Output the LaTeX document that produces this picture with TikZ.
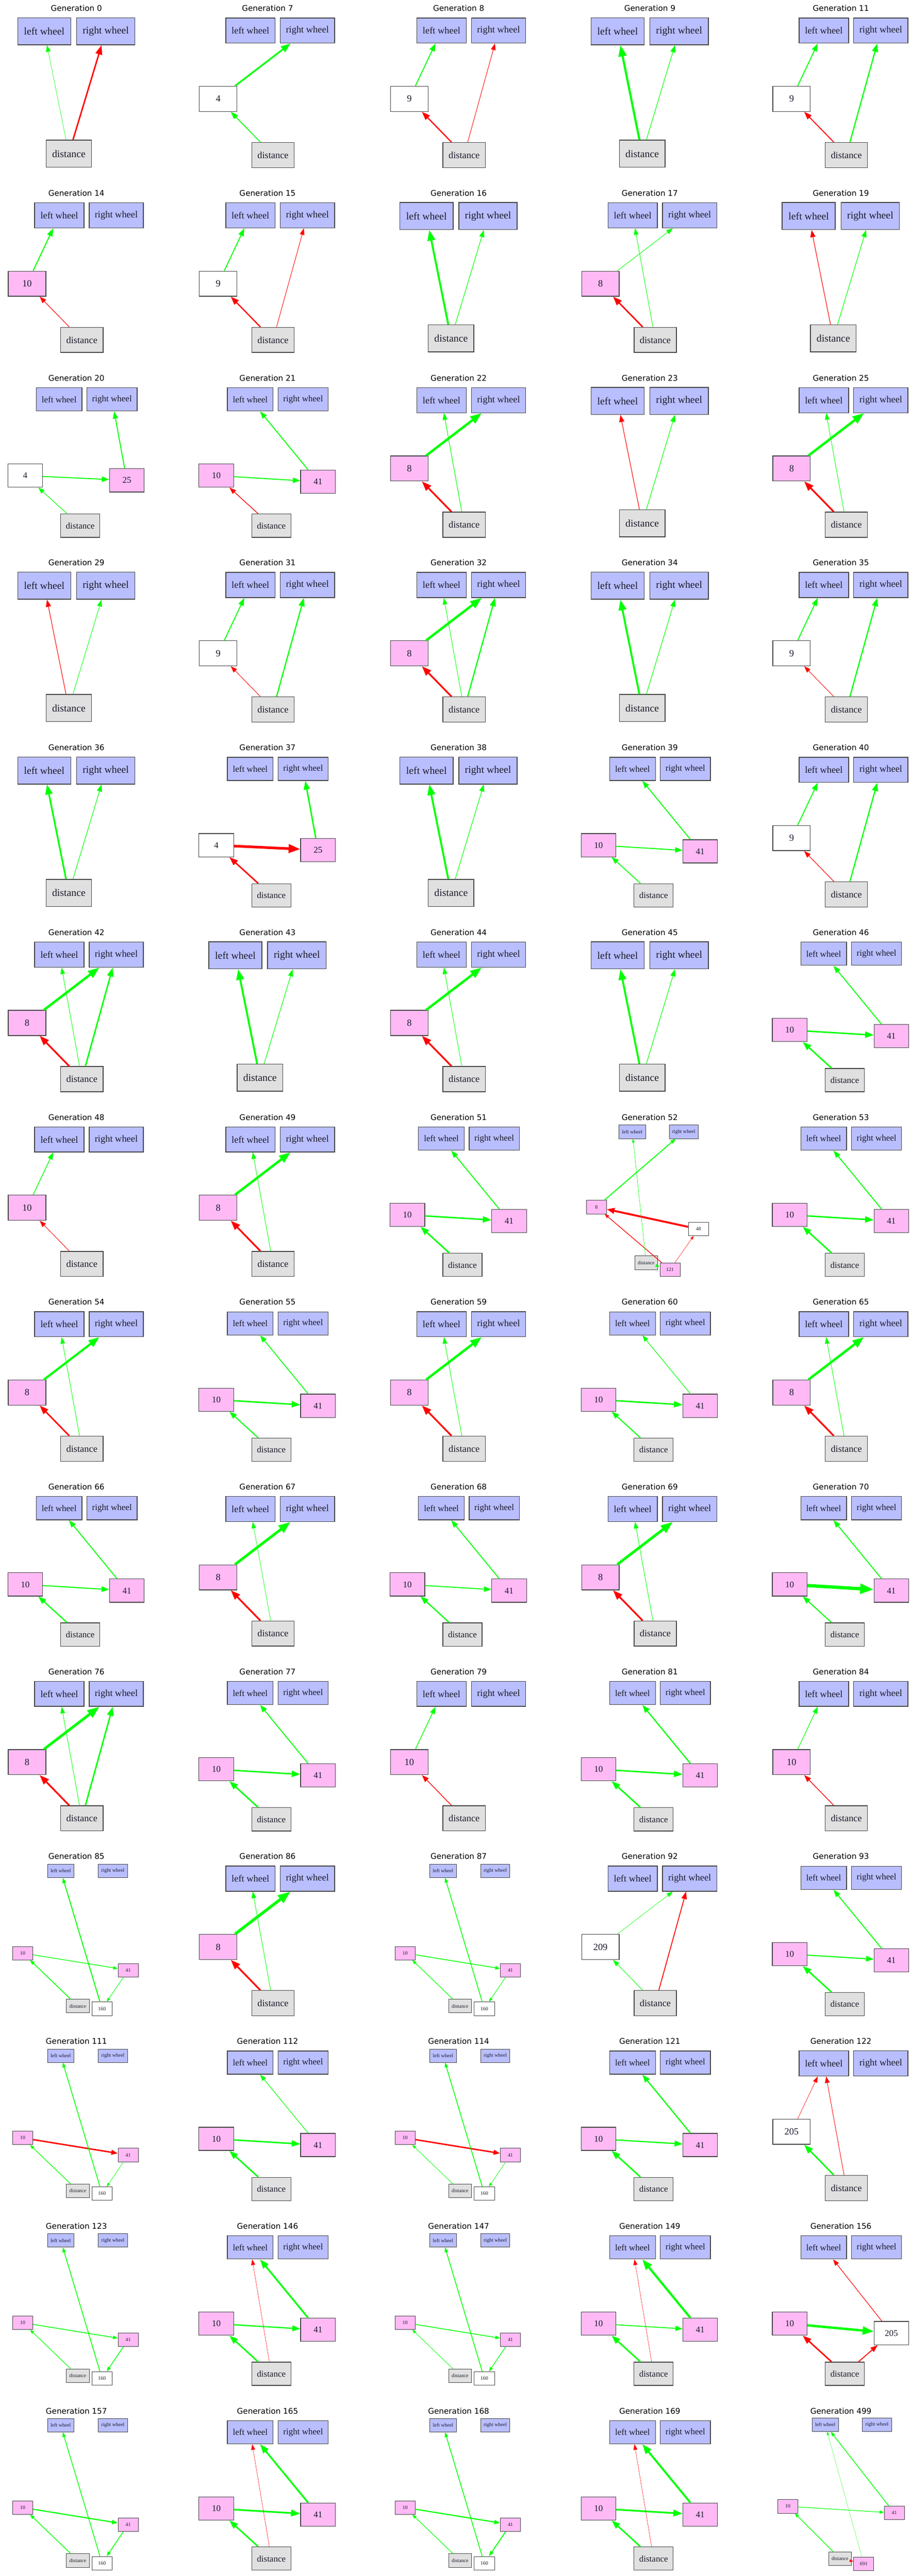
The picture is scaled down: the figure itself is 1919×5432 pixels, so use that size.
\documentclass[tikz,border=0pt]{standalone}
\usepackage{fontspec}
\setmainfont{Liberation Serif}
\newfontfamily\titlefont{DejaVu Sans}
\usetikzlibrary{arrows.meta}
\definecolor{wblue}{HTML}{B9BEFF}
\definecolor{hpink}{HTML}{FFBAF5}
\definecolor{dgray}{HTML}{E0E0E0}
\definecolor{eg}{HTML}{00FF00}
\definecolor{er}{HTML}{FF0000}
\definecolor{ntext}{HTML}{1A1A2A}
\def\psc{1}\def\pfs{21}
\tikzset{
 ttl/.style={font=\titlefont\fontsize{16.5}{18}\selectfont, inner sep=0pt},
 box/.style={draw=black!72, line width={1.6*\psc}, inner sep=0pt, minimum height={57*\psc}, text=ntext, font=\fontsize{\pfs}{\pfs}\selectfont},
 lwb/.style={box, fill=wblue, minimum width={112*\psc}},
 rwb/.style={box, fill=wblue, minimum width={123*\psc}},
 dib/.style={box, fill=dgray, minimum width={96*\psc}},
 nwb/.style={box, fill=white, minimum width={85*\psc}},
 npb/.style={box, fill=hpink, minimum width={85*\psc}},
}
\newcommand\nd[5]{\node[#1] (#2) at (#3,#4) {#5};}
\newcommand\ed[4]{\pgfmathsetmacro\aL{12*\psc+2.6*#2}\pgfmathsetmacro\aW{0.72*\aL}%
 \draw[#1, line width=#2pt, -{Triangle[length=\aL pt,width=\aW pt]}] (#3) -- (#4);}
\newcommand\gp[5]{%
 \begin{scope}[shift={({161+402.75*#1},{17.5+389.7*#2})}]
 \def\psc{#4}\pgfmathsetmacro\pfs{21.5*#4}
 \node[ttl] (t#3) at (0,0) {Generation #3};
 #5
 \end{scope}}
\newcommand\Lone[1]{%
 \nd{lwb}{g#1lw}{-67.8}{48.5}{left wheel}
 \nd{rwb}{g#1rw}{61.8}{48.5}{right wheel}
 \nd{dib}{g#1di}{-16}{306.5}{distance}}
\newcommand\Ltwo[3]{%
 \nd{lwb}{g#1lw}{-36}{47}{left wheel}
 \nd{rwb}{g#1rw}{84}{47}{right wheel}
 \nd{#2}{g#1h}{-104}{191}{#3}
 \nd{dib}{g#1di}{11.5}{309.5}{distance}}
\newcommand\Lfour[6]{%
 \nd{lwb}{g#1lw}{-36.4}{45.2}{left wheel}
 \nd{rwb}{g#1rw}{75}{45.2}{right wheel}
 \nd{#2}{g#1h}{-108}{206}{#3}
 \nd{#4}{g#1k}{106.3}{#6}{#5}
 \nd{dib}{g#1di}{8}{311.6}{distance}}
\newcommand\LT[1]{%
 \nd{lwb}{g#1lw}{-33}{30.5}{left wheel}
 \nd{rwb}{g#1rw}{77}{30.5}{right wheel}
 \nd{npb}{g#1h}{-113}{204}{10}
 \nd{npb}{g#1k}{109}{240}{41}
 \nd{dib}{g#1di}{3}{315.5}{distance}
 \nd{nwb}{g#1m}{54}{321.3}{160}}
\begin{document}
\begin{tikzpicture}[x=1pt,y=-1pt]
\useasboundingbox (0,0) rectangle (1919,5432);
\fill[white] (0,0) rectangle (1919,5432);
% Row 0
\gp{0}{0}{0}{1}{\Lone{0}\ed{eg}{0.7}{g0di}{g0lw}\ed{er}{3}{g0di}{g0rw}}
\gp{1}{0}{7}{0.93}{\Ltwo{7}{nwb}{4}\ed{eg}{3.5}{g7h}{g7rw}\ed{eg}{1.8}{g7di}{g7h}}
\gp{2}{0}{8}{0.93}{\Ltwo{8}{nwb}{9}\ed{eg}{2}{g8h}{g8lw}\ed{er}{2.5}{g8di}{g8h}\ed{er}{1}{g8di}{g8rw}}
\gp{3}{0}{9}{1}{\Lone{9}\ed{eg}{4.5}{g9di}{g9lw}\ed{eg}{1.2}{g9di}{g9rw}}
\gp{4}{0}{11}{0.93}{\Ltwo{11}{nwb}{9}\ed{eg}{2}{g11h}{g11lw}\ed{er}{2}{g11di}{g11h}\ed{eg}{2.5}{g11di}{g11rw}}
% Row 1
\gp{0}{1}{14}{0.93}{\Ltwo{14}{npb}{10}\ed{eg}{2.2}{g14h}{g14lw}\ed{er}{1.2}{g14di}{g14h}}
\gp{1}{1}{15}{0.93}{\Ltwo{15}{nwb}{9}\ed{eg}{2}{g15h}{g15lw}\ed{er}{2.5}{g15di}{g15h}\ed{er}{1}{g15di}{g15rw}}
\gp{2}{1}{16}{1}{\Lone{16}\ed{eg}{4}{g16di}{g16lw}\ed{eg}{1.2}{g16di}{g16rw}}
\gp{3}{1}{17}{0.93}{\Ltwo{17}{npb}{8}\ed{eg}{1}{g17h}{g17rw}\ed{eg}{1}{g17di}{g17lw}\ed{er}{3}{g17di}{g17h}}
\gp{4}{1}{19}{1}{\Lone{19}\ed{er}{1.2}{g19di}{g19lw}\ed{eg}{1.2}{g19di}{g19rw}}
% Row 2
\gp{0}{2}{20}{0.86}{\Lfour{20}{nwb}{4}{npb}{25}{216}\ed{eg}{2}{g20h}{g20k}\ed{eg}{2}{g20k}{g20rw}\ed{eg}{1.2}{g20di}{g20h}}
\gp{1}{2}{21}{0.86}{\Lfour{21}{npb}{10}{npb}{41}{219}\ed{eg}{2}{g21h}{g21k}\ed{eg}{2}{g21k}{g21lw}\ed{er}{1.5}{g21di}{g21h}}
\gp{2}{2}{22}{0.93}{\Ltwo{22}{npb}{8}\ed{eg}{5}{g22h}{g22rw}\ed{eg}{1.2}{g22di}{g22lw}\ed{er}{3.5}{g22di}{g22h}}
\gp{3}{2}{23}{1}{\Lone{23}\ed{er}{1.2}{g23di}{g23lw}\ed{eg}{1.2}{g23di}{g23rw}}
\gp{4}{2}{25}{0.93}{\Ltwo{25}{npb}{8}\ed{eg}{5}{g25h}{g25rw}\ed{eg}{1}{g25di}{g25lw}\ed{er}{3.5}{g25di}{g25h}}
% Row 3
\gp{0}{3}{29}{1}{\Lone{29}\ed{er}{1.2}{g29di}{g29lw}\ed{eg}{1}{g29di}{g29rw}}
\gp{1}{3}{31}{0.93}{\Ltwo{31}{nwb}{9}\ed{eg}{2}{g31h}{g31lw}\ed{er}{1}{g31di}{g31h}\ed{eg}{2.5}{g31di}{g31rw}}
\gp{2}{3}{32}{0.93}{\Ltwo{32}{npb}{8}\ed{eg}{5}{g32h}{g32rw}\ed{eg}{1}{g32di}{g32lw}\ed{eg}{2.5}{g32di}{g32rw}\ed{er}{3.5}{g32di}{g32h}}
\gp{3}{3}{34}{1}{\Lone{34}\ed{eg}{4}{g34di}{g34lw}\ed{eg}{1.2}{g34di}{g34rw}}
\gp{4}{3}{35}{0.93}{\Ltwo{35}{nwb}{9}\ed{eg}{2}{g35h}{g35lw}\ed{er}{1}{g35di}{g35h}\ed{eg}{2.5}{g35di}{g35rw}}
% Row 4
\gp{0}{4}{36}{1}{\Lone{36}\ed{eg}{3.5}{g36di}{g36lw}\ed{eg}{1.2}{g36di}{g36rw}}
\gp{1}{4}{37}{0.86}{\Lfour{37}{nwb}{4}{npb}{25}{216}\ed{er}{5.5}{g37h}{g37k}\ed{eg}{3}{g37k}{g37rw}\ed{er}{3}{g37di}{g37h}}
\gp{2}{4}{38}{1}{\Lone{38}\ed{eg}{4}{g38di}{g38lw}\ed{eg}{1.2}{g38di}{g38rw}}
\gp{3}{4}{39}{0.86}{\Lfour{39}{npb}{10}{npb}{41}{219}\ed{eg}{2}{g39h}{g39k}\ed{eg}{2}{g39k}{g39lw}\ed{eg}{1.8}{g39di}{g39h}}
\gp{4}{4}{40}{0.93}{\Ltwo{40}{nwb}{9}\ed{eg}{2}{g40h}{g40lw}\ed{er}{1.2}{g40di}{g40h}\ed{eg}{2.5}{g40di}{g40rw}}
% Row 5
\gp{0}{5}{42}{0.93}{\Ltwo{42}{npb}{8}\ed{eg}{5}{g42h}{g42rw}\ed{eg}{1}{g42di}{g42lw}\ed{eg}{3}{g42di}{g42rw}\ed{er}{3.5}{g42di}{g42h}}
\gp{1}{5}{43}{1}{\Lone{43}\ed{eg}{4}{g43di}{g43lw}\ed{eg}{1.2}{g43di}{g43rw}}
\gp{2}{5}{44}{0.93}{\Ltwo{44}{npb}{8}\ed{eg}{5}{g44h}{g44rw}\ed{eg}{1}{g44di}{g44lw}\ed{er}{3.5}{g44di}{g44h}}
\gp{3}{5}{45}{1}{\Lone{45}\ed{eg}{4}{g45di}{g45lw}\ed{eg}{1.2}{g45di}{g45rw}}
\gp{4}{5}{46}{0.86}{\Lfour{46}{npb}{10}{npb}{41}{219}\ed{eg}{3}{g46h}{g46k}\ed{eg}{2}{g46k}{g46lw}\ed{eg}{3}{g46di}{g46h}}
% Row 6
\gp{0}{6}{48}{0.93}{\Ltwo{48}{npb}{10}\ed{eg}{1.5}{g48h}{g48lw}\ed{er}{1}{g48di}{g48h}}
\gp{1}{6}{49}{0.93}{\Ltwo{49}{npb}{8}\ed{eg}{5}{g49h}{g49rw}\ed{eg}{1}{g49di}{g49lw}\ed{er}{3.5}{g49di}{g49h}}
\gp{2}{6}{51}{0.86}{\Lfour{51}{npb}{10}{npb}{41}{219}\ed{eg}{3}{g51h}{g51k}\ed{eg}{2}{g51k}{g51lw}\ed{eg}{3}{g51di}{g51h}}
\gp{3}{6}{52}{0.5}{%
 \nd{lwb}{g52lw}{-37}{31}{left wheel}
 \nd{rwb}{g52rw}{71.5}{31}{right wheel}
 \nd{npb}{g52h}{-112.4}{189.5}{8}
 \nd{nwb}{g52k}{102.6}{236}{48}
 \nd{dib}{g52di}{-7.7}{306.8}{distance}
 \nd{npb}{g52m}{42.5}{321.6}{121}
 \ed{eg}{2}{g52h}{g52rw}\ed{er}{4}{g52k}{g52h}\ed{er}{1.4}{g52m}{g52h}\ed{eg}{0.7}{g52di}{g52lw}\ed{er}{0.6}{g52m}{g52k}\ed{eg}{1}{g52di}{g52m}}
\gp{4}{6}{53}{0.86}{\Lfour{53}{npb}{10}{npb}{41}{219}\ed{eg}{3}{g53h}{g53k}\ed{eg}{2}{g53k}{g53lw}\ed{eg}{3}{g53di}{g53h}}
% Row 7
\gp{0}{7}{54}{0.93}{\Ltwo{54}{npb}{8}\ed{eg}{4.5}{g54h}{g54rw}\ed{eg}{1}{g54di}{g54lw}\ed{er}{3}{g54di}{g54h}}
\gp{1}{7}{55}{0.86}{\Lfour{55}{npb}{10}{npb}{41}{219}\ed{eg}{3}{g55h}{g55k}\ed{eg}{1.8}{g55k}{g55lw}\ed{eg}{2.2}{g55di}{g55h}}
\gp{2}{7}{59}{0.93}{\Ltwo{59}{npb}{8}\ed{eg}{5}{g59h}{g59rw}\ed{eg}{1}{g59di}{g59lw}\ed{er}{3.5}{g59di}{g59h}}
\gp{3}{7}{60}{0.86}{\Lfour{60}{npb}{10}{npb}{41}{219}\ed{eg}{3}{g60h}{g60k}\ed{eg}{1.2}{g60k}{g60lw}\ed{eg}{2.2}{g60di}{g60h}}
\gp{4}{7}{65}{0.93}{\Ltwo{65}{npb}{8}\ed{eg}{5}{g65h}{g65rw}\ed{eg}{1}{g65di}{g65lw}\ed{er}{3.5}{g65di}{g65h}}
% Row 8
\gp{0}{8}{66}{0.86}{\Lfour{66}{npb}{10}{npb}{41}{219}\ed{eg}{2.2}{g66h}{g66k}\ed{eg}{2}{g66k}{g66lw}\ed{eg}{2.5}{g66di}{g66h}}
\gp{1}{8}{67}{0.93}{\Ltwo{67}{npb}{8}\ed{eg}{5.5}{g67h}{g67rw}\ed{eg}{0.8}{g67di}{g67lw}\ed{er}{3.5}{g67di}{g67h}}
\gp{2}{8}{68}{0.86}{\Lfour{68}{npb}{10}{npb}{41}{219}\ed{eg}{2}{g68h}{g68k}\ed{eg}{2}{g68k}{g68lw}\ed{eg}{2.5}{g68di}{g68h}}
\gp{3}{8}{69}{0.93}{\Ltwo{69}{npb}{8}\ed{eg}{5.5}{g69h}{g69rw}\ed{eg}{1}{g69di}{g69lw}\ed{er}{3.5}{g69di}{g69h}}
\gp{4}{8}{70}{0.86}{\Lfour{70}{npb}{10}{npb}{41}{219}\ed{eg}{7}{g70h}{g70k}\ed{eg}{2}{g70k}{g70lw}\ed{eg}{2.2}{g70di}{g70h}}
% Row 9
\gp{0}{9}{76}{0.93}{\Ltwo{76}{npb}{8}\ed{eg}{5.5}{g76h}{g76rw}\ed{eg}{1}{g76di}{g76lw}\ed{eg}{3}{g76di}{g76rw}\ed{er}{3.5}{g76di}{g76h}}
\gp{1}{9}{77}{0.86}{\Lfour{77}{npb}{10}{npb}{41}{219}\ed{eg}{3}{g77h}{g77k}\ed{eg}{2}{g77k}{g77lw}\ed{eg}{3}{g77di}{g77h}}
\gp{2}{9}{79}{0.93}{\Ltwo{79}{npb}{10}\ed{eg}{1.5}{g79h}{g79lw}\ed{er}{1.5}{g79di}{g79h}}
\gp{3}{9}{81}{0.86}{\Lfour{81}{npb}{10}{npb}{41}{219}\ed{eg}{3}{g81h}{g81k}\ed{eg}{2.5}{g81k}{g81lw}\ed{eg}{3}{g81di}{g81h}}
\gp{4}{9}{84}{0.93}{\Ltwo{84}{npb}{10}\ed{eg}{1.2}{g84h}{g84lw}\ed{er}{1.5}{g84di}{g84h}}
% Row 10
\gp{0}{10}{85}{0.5}{\LT{85}\ed{eg}{1.4}{g85h}{g85k}\ed{eg}{1.7}{g85di}{g85h}\ed{eg}{2}{g85m}{g85lw}\ed{eg}{1}{g85k}{g85m}}
\gp{1}{10}{86}{0.93}{\Ltwo{86}{npb}{8}\ed{eg}{6}{g86h}{g86rw}\ed{eg}{1}{g86di}{g86lw}\ed{er}{3.5}{g86di}{g86h}}
\gp{2}{10}{87}{0.5}{\LT{87}\ed{eg}{1.6}{g87h}{g87k}\ed{eg}{1.2}{g87di}{g87h}\ed{eg}{1.6}{g87m}{g87lw}\ed{eg}{1}{g87k}{g87m}}
\gp{3}{10}{92}{0.93}{\Ltwo{92}{nwb}{209}\ed{eg}{0.7}{g92h}{g92rw}\ed{eg}{1}{g92di}{g92h}\ed{er}{1.8}{g92di}{g92rw}}
\gp{4}{10}{93}{0.86}{\Lfour{93}{npb}{10}{npb}{41}{219}\ed{eg}{2.2}{g93h}{g93k}\ed{eg}{2}{g93k}{g93lw}\ed{eg}{3}{g93di}{g93h}}
% Row 11
\gp{0}{11}{111}{0.5}{\LT{111}\ed{er}{3}{g111h}{g111k}\ed{eg}{1.3}{g111di}{g111h}\ed{eg}{1.6}{g111m}{g111lw}\ed{eg}{0.8}{g111k}{g111m}}
\gp{1}{11}{112}{0.86}{\Lfour{112}{npb}{10}{npb}{41}{219}\ed{eg}{3}{g112h}{g112k}\ed{eg}{1.2}{g112k}{g112lw}\ed{eg}{3}{g112di}{g112h}}
\gp{2}{11}{114}{0.5}{\LT{114}\ed{er}{3}{g114h}{g114k}\ed{eg}{0.9}{g114di}{g114h}\ed{eg}{1.6}{g114m}{g114lw}\ed{eg}{0.8}{g114k}{g114m}}
\gp{3}{11}{121}{0.86}{\Lfour{121}{npb}{10}{npb}{41}{219}\ed{eg}{2.5}{g121h}{g121k}\ed{eg}{2.5}{g121k}{g121lw}\ed{eg}{3}{g121di}{g121h}}
\gp{4}{11}{122}{0.93}{\Ltwo{122}{nwb}{205}\ed{er}{0.7}{g122h}{g122lw}\ed{eg}{3}{g122di}{g122h}\ed{er}{1}{g122di}{g122lw}}
% Row 12
\gp{0}{12}{123}{0.5}{\LT{123}\ed{eg}{1.6}{g123h}{g123k}\ed{eg}{1.2}{g123di}{g123h}\ed{eg}{1.6}{g123m}{g123lw}\ed{eg}{1.5}{g123k}{g123m}}
\gp{1}{12}{146}{0.86}{\Lfour{146}{npb}{10}{npb}{41}{219}\ed{eg}{2.5}{g146h}{g146k}\ed{eg}{3.5}{g146k}{g146lw}\ed{eg}{3}{g146di}{g146h}\ed{er}{0.6}{g146di}{g146lw}}
\gp{2}{12}{147}{0.5}{\LT{147}\ed{eg}{1.6}{g147h}{g147k}\ed{eg}{0.9}{g147di}{g147h}\ed{eg}{1.6}{g147m}{g147lw}\ed{eg}{1.3}{g147k}{g147m}}
\gp{3}{12}{149}{0.86}{\Lfour{149}{npb}{10}{npb}{41}{219}\ed{eg}{1.8}{g149h}{g149k}\ed{eg}{4.5}{g149k}{g149lw}\ed{eg}{3}{g149di}{g149h}\ed{er}{0.6}{g149di}{g149lw}}
\gp{4}{12}{156}{0.86}{\Lfour{156}{npb}{10}{nwb}{205}{226}\ed{eg}{5}{g156h}{g156k}\ed{er}{1.2}{g156k}{g156lw}\ed{er}{3}{g156di}{g156h}\ed{er}{2}{g156di}{g156k}}
% Row 13
\gp{0}{13}{157}{0.5}{\LT{157}\ed{eg}{2.4}{g157h}{g157k}\ed{eg}{1.5}{g157di}{g157h}\ed{eg}{1.5}{g157m}{g157lw}\ed{eg}{1.6}{g157k}{g157m}}
\gp{1}{13}{165}{0.86}{\Lfour{165}{npb}{10}{npb}{41}{219}\ed{eg}{3.5}{g165h}{g165k}\ed{eg}{3.5}{g165k}{g165lw}\ed{eg}{3}{g165di}{g165h}\ed{er}{0.6}{g165di}{g165lw}}
\gp{2}{13}{168}{0.5}{\LT{168}\ed{eg}{2.4}{g168h}{g168k}\ed{eg}{1.2}{g168di}{g168h}\ed{eg}{1.6}{g168m}{g168lw}\ed{eg}{2}{g168k}{g168m}}
\gp{3}{13}{169}{0.86}{\Lfour{169}{npb}{10}{npb}{41}{219}\ed{eg}{3.5}{g169h}{g169k}\ed{eg}{4}{g169k}{g169lw}\ed{eg}{3}{g169di}{g169h}\ed{er}{0.6}{g169di}{g169lw}}
\gp{4}{13}{499}{0.5}{%
 \nd{lwb}{g499lw}{-33}{29.4}{left wheel}
 \nd{rwb}{g499rw}{76}{29.4}{right wheel}
 \nd{npb}{g499h}{-112}{201.4}{10}
 \nd{npb}{g499k}{112.5}{215.4}{41}
 \nd{dib}{g499di}{-2}{311.4}{distance}
 \nd{npb}{g499m}{48}{322.4}{691}
 \ed{eg}{1.2}{g499h}{g499k}\ed{eg}{1.5}{g499k}{g499lw}\ed{eg}{1.3}{g499di}{g499h}\ed{eg}{0.4}{g499m}{g499lw}\ed{er}{0.8}{g499di}{g499m}}
\end{tikzpicture}
\end{document}
